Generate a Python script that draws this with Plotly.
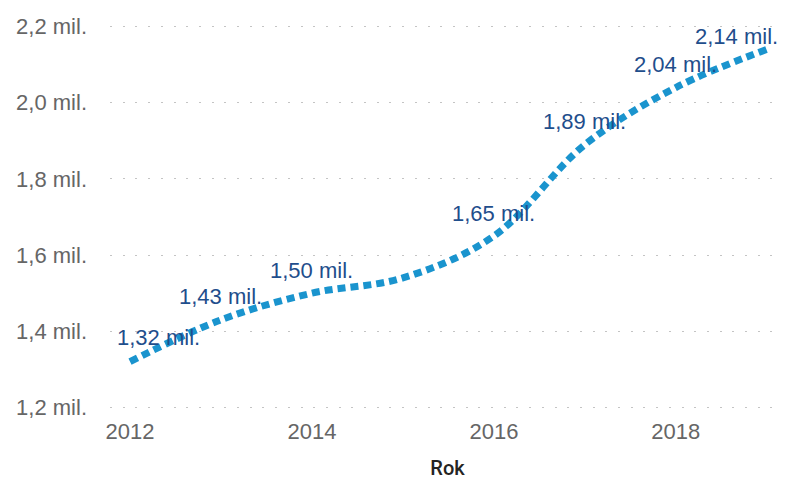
import plotly.graph_objects as go

years = [2012, 2013, 2014, 2015, 2016, 2017, 2018, 2019]
values_mil = [1.32, 1.43, 1.50, 1.54, 1.65, 1.89, 2.04, 2.14]
labeled_years = [2012, 2013, 2014, 2016, 2017, 2018, 2019]
y_tick_vals = [1.2, 1.4, 1.6, 1.8, 2.0, 2.2]
y_tick_text = ["1,2 mil.", "1,4 mil.", "1,6 mil.", "1,8 mil.", "2,0 mil.", "2,2 mil."]
x_tick_vals = [2012, 2014, 2016, 2018]

LINE = "#1A94CE"
LABEL = "#1F4E8C"
TICK = "#666666"

fig = go.Figure()
fig.add_trace(go.Scatter(
    x=years, y=values_mil, mode="lines",
    line=dict(color=LINE, width=7, dash="8px,5px", shape="spline", smoothing=1.0),
    hoverinfo="skip", showlegend=False,
))

shifts = {2012: (28, 24), 2019: (-30, 13)}
for yr, v in zip(years, values_mil):
    if yr not in labeled_years:
        continue
    xs, ys = shifts.get(yr, (0, 23))
    fig.add_annotation(
        x=yr, y=v, xref="x", yref="y",
        text=f"{v:.2f}".replace(".", ",") + " mil.",
        showarrow=False, xanchor="center", yanchor="middle",
        xshift=xs, yshift=ys,
        font=dict(family="Liberation Sans, Arial", size=22, color=LABEL),
    )

# page body has an 8px default margin: size the figure to fill the window
fig.update_layout(
    width=777, height=476,
    margin=dict(l=102, r=0, t=11, b=69),
    paper_bgcolor="white", plot_bgcolor="white",
    xaxis=dict(
        range=[2011.78, 2019.2],
        tickvals=x_tick_vals, ticktext=[str(v) for v in x_tick_vals],
        showgrid=False, zeroline=False, showline=False, ticks="",
        tickfont=dict(family="Liberation Sans, Arial", size=22, color=TICK),
        ticklabelstandoff=1,
        title=dict(text="Rok", standoff=17,
                   font=dict(family="Roboto, DejaVu Sans", size=20, color="#252423", weight=500)),
    ),
    yaxis=dict(
        range=[1.18, 2.22],
        tickvals=y_tick_vals, ticktext=y_tick_text,
        showgrid=True, gridcolor="#C4C4C4", gridwidth=1, griddash="2px,10.7px",
        zeroline=False, showline=False, ticks="",
        tickfont=dict(family="Liberation Sans, Arial", size=22, color=TICK),
        ticklabelstandoff=22,
    ),
)

fig.write_html("out.html")
